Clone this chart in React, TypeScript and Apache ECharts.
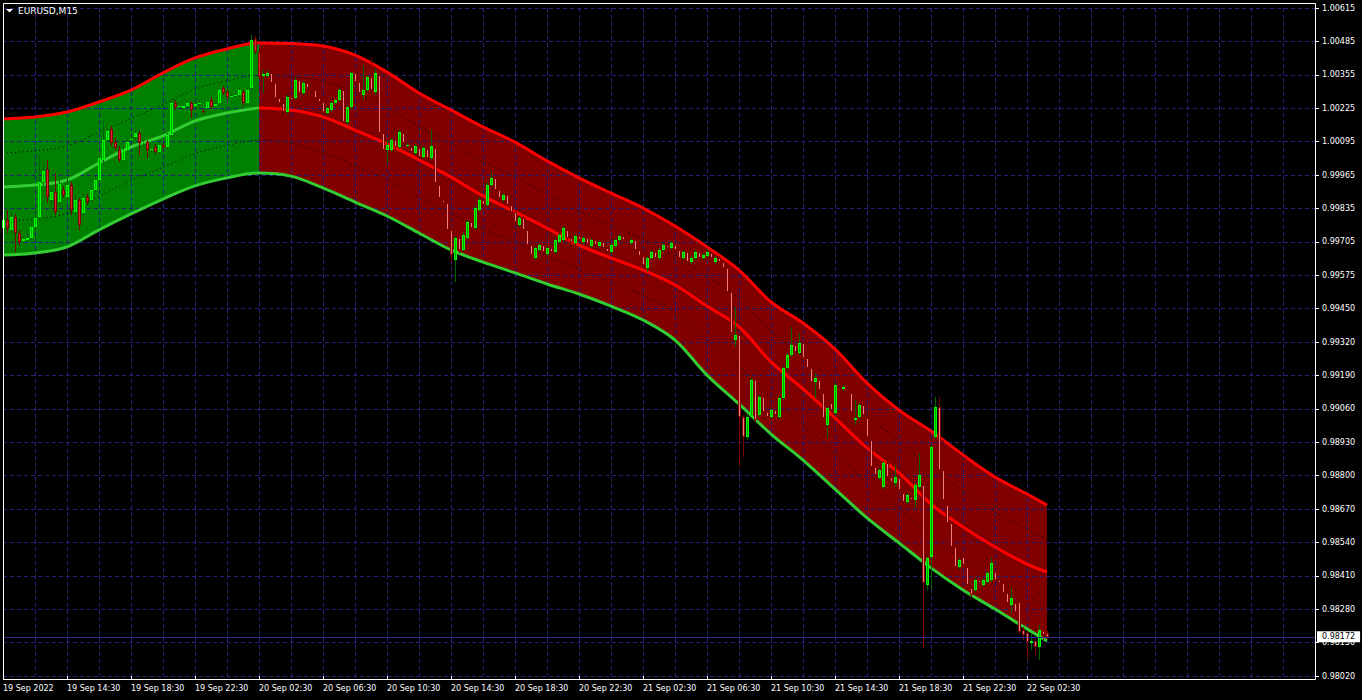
import React, { useEffect, useRef } from "react";
import * as echarts from "echarts";

// ---- texts ----
const symbolTitle = "EURUSD,M15";
const yTickLabels = [
  "0.98020", "0.98150", "0.98280", "0.98410", "0.98540", "0.98670", "0.98800",
  "0.98930", "0.99060", "0.99190", "0.99320", "0.99450", "0.99575", "0.99705",
  "0.99835", "0.99965", "1.00095", "1.00225", "1.00355", "1.00485", "1.00615",
];
const xTickLabels = [
  "19 Sep 2022", "19 Sep 14:30", "19 Sep 18:30", "19 Sep 22:30", "20 Sep 02:30",
  "20 Sep 06:30", "20 Sep 10:30", "20 Sep 14:30", "20 Sep 18:30", "20 Sep 22:30",
  "21 Sep 02:30", "21 Sep 06:30", "21 Sep 10:30", "21 Sep 14:30", "21 Sep 18:30",
  "21 Sep 22:30", "22 Sep 02:30",
];
const BARS_PER_LABEL = 16;
const BARS_PER_GRID = 8;
const SLOT_COUNT = 329; // bar slots across the chart (incl. right shift space)
const GREEN_END = 64; // last bar of the green band zone

// prices in points (1 point = 0.00001)
const PRICE_BASE = 98020;
const PRICE_TOP = 100615;

// ---- band indicator (sampled every 8 bars) ----
const bandIdx = [0, 8, 16, 24, 32, 40, 48, 56, 64, 72, 80, 88, 96, 104, 112, 120, 128, 136, 144, 152, 160, 168, 176, 184, 192, 200, 208, 216, 224, 232, 240, 248, 256, 261];
const upperBand = [100184, 100192, 100211, 100250, 100296, 100363, 100421, 100456, 100479, 100477, 100467, 100432, 100366, 100285, 100219, 100153, 100094, 100021, 99955, 99896, 99838, 99768, 99687, 99597, 99473, 99391, 99290, 99158, 99053, 98972, 98879, 98793, 98727, 98684];
const middleBand = [99920, 99927, 99947, 100013, 100075, 100118, 100176, 100207, 100227, 100219, 100192, 100141, 100087, 100025, 99958, 99885, 99823, 99760, 99694, 99644, 99597, 99539, 99457, 99376, 99240, 99135, 99022, 98906, 98809, 98688, 98599, 98521, 98455, 98424];
const lowerBand = [99655, 99663, 99687, 99753, 99815, 99873, 99924, 99955, 99974, 99962, 99916, 99861, 99807, 99741, 99675, 99628, 99586, 99543, 99504, 99457, 99403, 99325, 99189, 99077, 98960, 98859, 98746, 98634, 98537, 98440, 98354, 98280, 98203, 98156];
const dotUpper = [100052, 100060, 100079, 100132, 100186, 100241, 100299, 100332, 100353, 100348, 100330, 100287, 100227, 100155, 100089, 100019, 99959, 99891, 99825, 99770, 99718, 99654, 99572, 99487, 99357, 99263, 99156, 99032, 98931, 98830, 98739, 98657, 98591, 98554];
const dotLower = [99788, 99795, 99817, 99883, 99945, 99996, 100050, 100081, 100101, 100091, 100054, 100001, 99947, 99883, 99817, 99757, 99705, 99652, 99599, 99551, 99500, 99432, 99323, 99227, 99100, 98997, 98884, 98770, 98673, 98564, 98477, 98401, 98329, 98290];

// ---- M15 candles: [open, close, low, high] in points ----
const ohlc = [
  [99760, 99791, 99745, 99807], [99791, 99760, 99741, 99830], [99753, 99803, 99733, 99822], [99803, 99741, 99667, 99815],
  [99741, 99706, 99690, 99753], [99710, 99718, 99698, 99729], [99714, 99721, 99706, 99745], [99721, 99764, 99714, 99776],
  [99764, 99799, 99753, 99819], [99803, 99939, 99791, 100044], [99939, 99982, 99927, 100013], [99989, 99881, 99857, 100024],
  [99869, 99900, 99854, 99916], [99900, 99822, 99811, 99974], [99861, 99931, 99846, 99947], [99908, 99889, 99877, 99923],
  [99881, 99927, 99869, 99962], [99927, 99830, 99811, 99939], [99822, 99869, 99815, 99885], [99869, 99772, 99753, 99877],
  [99819, 99877, 99807, 99892], [99881, 99861, 99850, 99892], [99869, 99908, 99857, 99920], [99908, 99947, 99900, 99962],
  [99947, 100032, 99935, 100044], [100024, 100102, 100013, 100180], [100102, 100137, 100094, 100149], [100145, 100090, 100079, 100157],
  [100094, 100071, 100063, 100110], [100063, 100024, 100017, 100079], [100024, 100063, 100017, 100075], [100063, 100094, 100056, 100110],
  [100102, 100106, 100094, 100118], [100114, 100129, 100102, 100141], [100129, 100090, 100044, 100137], [100090, 100094, 100083, 100102],
  [100094, 100063, 100032, 100102], [100063, 100067, 100056, 100079], [100075, 100056, 100048, 100087], [100056, 100083, 100048, 100090],
  [100083, 100075, 100067, 100090], [100075, 100122, 100067, 100129], [100122, 100246, 100114, 100258], [100246, 100230, 100219, 100258],
  [100230, 100234, 100226, 100242], [100226, 100234, 100219, 100242], [100234, 100246, 100226, 100258], [100246, 100219, 100188, 100254],
  [100234, 100242, 100226, 100250], [100242, 100246, 100234, 100258], [100215, 100211, 100203, 100223], [100226, 100250, 100219, 100258],
  [100258, 100230, 100223, 100269], [100234, 100242, 100230, 100250], [100246, 100296, 100238, 100304], [100304, 100285, 100277, 100312],
  [100289, 100269, 100261, 100296], [100269, 100273, 100265, 100281], [100273, 100277, 100269, 100285], [100277, 100296, 100269, 100304],
  [100289, 100246, 100234, 100296], [100246, 100296, 100238, 100304], [100304, 100491, 100296, 100510], [100495, 100444, 100436, 100506],
  [100444, 100347, 100339, 100452], [100351, 100359, 100285, 100374], [100351, 100362, 100343, 100374], [100362, 100324, 100316, 100370],
  [100324, 100265, 100258, 100331], [100265, 100246, 100238, 100273], [100246, 100211, 100203, 100254], [100211, 100269, 100203, 100277],
  [100269, 100258, 100250, 100277], [100265, 100335, 100258, 100347], [100335, 100285, 100277, 100343], [100285, 100324, 100277, 100331],
  [100324, 100304, 100296, 100331], [100304, 100296, 100289, 100312], [100296, 100265, 100258, 100304], [100265, 100250, 100242, 100273],
  [100250, 100211, 100203, 100258], [100207, 100226, 100199, 100234], [100219, 100246, 100211, 100254], [100246, 100258, 100238, 100265],
  [100258, 100296, 100250, 100304], [100296, 100172, 100164, 100304], [100172, 100230, 100160, 100238], [100230, 100362, 100219, 100366],
  [100362, 100327, 100320, 100370], [100327, 100285, 100277, 100335], [100277, 100296, 100258, 100394], [100296, 100347, 100289, 100355],
  [100347, 100296, 100289, 100425], [100289, 100362, 100277, 100382], [100355, 100129, 100122, 100362], [100129, 100063, 100056, 100137],
  [100063, 100083, 100013, 100102], [100063, 100102, 100056, 100110], [100102, 100075, 100067, 100110], [100075, 100133, 100067, 100141],
  [100129, 100090, 100083, 100137], [100083, 100083, 100075, 100090], [100075, 100056, 100048, 100083], [100052, 100079, 100044, 100087],
  [100071, 100036, 100028, 100079], [100036, 100071, 100028, 100079], [100067, 100032, 100024, 100075], [100032, 100079, 100024, 100141],
  [100071, 99935, 99927, 100079], [99927, 99877, 99869, 99935], [99869, 99857, 99850, 99877], [99857, 99753, 99745, 99865],
  [99753, 99655, 99628, 99760], [99636, 99721, 99551, 99729], [99721, 99675, 99663, 99729], [99675, 99733, 99667, 99745],
  [99721, 99784, 99714, 99791], [99784, 99760, 99753, 99795], [99760, 99838, 99753, 99850], [99830, 99869, 99822, 99881],
  [99869, 99850, 99842, 99881], [99850, 99927, 99842, 99939], [99927, 99955, 99920, 99978], [99955, 99908, 99900, 99962],
  [99908, 99877, 99869, 99916], [99869, 99889, 99861, 99896], [99889, 99850, 99842, 99896], [99850, 99822, 99815, 99857],
  [99822, 99784, 99776, 99830], [99772, 99799, 99764, 99807], [99799, 99753, 99745, 99807], [99753, 99694, 99687, 99760],
  [99694, 99655, 99644, 99702], [99644, 99683, 99636, 99690], [99675, 99694, 99667, 99702], [99694, 99667, 99659, 99702],
  [99659, 99683, 99652, 99690], [99683, 99667, 99659, 99690], [99667, 99714, 99659, 99721], [99706, 99733, 99698, 99741],
  [99714, 99760, 99706, 99768], [99753, 99721, 99714, 99760], [99721, 99706, 99698, 99729], [99702, 99729, 99694, 99737],
  [99729, 99714, 99706, 99737], [99706, 99721, 99698, 99729], [99721, 99698, 99690, 99729], [99690, 99714, 99683, 99721],
  [99714, 99694, 99687, 99721], [99690, 99706, 99683, 99714], [99706, 99683, 99675, 99714], [99683, 99667, 99659, 99690],
  [99667, 99694, 99659, 99702], [99690, 99714, 99683, 99721], [99714, 99729, 99706, 99737], [99729, 99714, 99706, 99737],
  [99714, 99706, 99698, 99721], [99702, 99714, 99694, 99721], [99714, 99675, 99667, 99721], [99675, 99652, 99644, 99683],
  [99652, 99617, 99605, 99659], [99605, 99644, 99589, 99652], [99644, 99667, 99636, 99675], [99667, 99644, 99636, 99675],
  [99644, 99675, 99636, 99683], [99675, 99694, 99667, 99702], [99694, 99683, 99675, 99702], [99683, 99702, 99675, 99710],
  [99694, 99675, 99667, 99702], [99675, 99644, 99636, 99683], [99644, 99667, 99636, 99675], [99667, 99628, 99621, 99675],
  [99628, 99644, 99621, 99652], [99644, 99667, 99636, 99675], [99667, 99644, 99636, 99675], [99644, 99655, 99636, 99663],
  [99652, 99667, 99644, 99675], [99663, 99644, 99636, 99671], [99628, 99644, 99621, 99652], [99644, 99628, 99621, 99652],
  [99628, 99605, 99597, 99636], [99605, 99512, 99504, 99613], [99512, 99352, 99345, 99519], [99325, 99345, 99298, 99453],
  [99345, 99026, 98832, 99352], [99026, 98948, 98871, 99034], [98948, 99026, 98937, 99034], [99026, 99170, 99018, 99178],
  [99170, 99014, 99007, 99178], [99034, 99104, 99026, 99112], [99104, 99045, 99038, 99112], [99045, 99026, 99018, 99053],
  [99026, 99053, 99018, 99061], [99053, 99034, 99026, 99061], [99026, 99100, 99018, 99108], [99100, 99216, 99092, 99224],
  [99216, 99267, 99209, 99275], [99267, 99306, 99259, 99376], [99306, 99279, 99271, 99314], [99275, 99314, 99267, 99352],
  [99314, 99255, 99248, 99321], [99255, 99216, 99209, 99263], [99216, 99162, 99154, 99224], [99162, 99178, 99100, 99197],
  [99170, 99131, 99123, 99178], [99119, 99022, 99014, 99127], [98995, 99061, 98944, 99069], [99080, 99053, 99045, 99088],
  [99041, 99150, 99034, 99158], [99147, 99139, 99131, 99154], [99135, 99143, 99127, 99150], [99139, 99131, 99123, 99147],
  [99119, 99045, 99038, 99127], [99014, 99022, 98995, 99092], [99026, 99073, 99018, 99080], [99073, 99034, 99026, 99080],
  [99022, 98948, 98941, 99030], [98937, 98832, 98824, 98944], [98832, 98801, 98793, 98840], [98789, 98820, 98781, 98828],
  [98754, 98847, 98746, 98855], [98847, 98793, 98785, 98855], [98793, 98773, 98766, 98801], [98770, 98793, 98754, 98840],
  [98789, 98742, 98735, 98797], [98731, 98696, 98688, 98738], [98696, 98723, 98688, 98731], [98715, 98704, 98696, 98723],
  [98704, 98762, 98672, 98770], [98754, 98801, 98746, 98886], [98762, 98381, 98129, 98770], [98373, 98478, 98354, 98486],
  [98482, 98909, 98354, 98917], [98948, 99065, 98941, 99104], [99065, 98820, 98812, 99104], [98820, 98704, 98696, 98937],
  [98684, 98614, 98607, 98692], [98614, 98521, 98513, 98622], [98521, 98443, 98435, 98529], [98443, 98470, 98435, 98478],
  [98482, 98451, 98443, 98490], [98443, 98373, 98366, 98451], [98362, 98334, 98327, 98369], [98354, 98393, 98346, 98400],
  [98393, 98381, 98373, 98400], [98373, 98393, 98366, 98400], [98385, 98420, 98377, 98428], [98393, 98459, 98385, 98478],
  [98424, 98393, 98385, 98432], [98393, 98381, 98373, 98400], [98381, 98342, 98334, 98389], [98342, 98303, 98296, 98350],
  [98296, 98323, 98264, 98362], [98303, 98268, 98261, 98311], [98307, 98191, 98183, 98315], [98199, 98179, 98160, 98210],
  [98187, 98152, 98082, 98195], [98148, 98156, 98121, 98187], [98156, 98132, 98101, 98163], [98132, 98199, 98082, 98218],
  [98195, 98179, 98160, 98210], [98187, 98172, 98163, 98195],
];

const FONT = "DejaVu Sans";

export default function App() {
  const ref = useRef<HTMLDivElement>(null);

  useEffect(() => {
    if (!ref.current) return;
    const chart = echarts.init(ref.current, undefined, { renderer: "svg" });
    const rel = (v: number) => v - PRICE_BASE;
    const span = PRICE_TOP - PRICE_BASE;
    const step = span / 20;
    const splitK = bandIdx.indexOf(GREEN_END);
    const lastK = bandIdx.length - 1;
    const pts = (arr: number[], from: number, to: number) =>
      bandIdx.slice(from, to + 1).map((ix, k) => [ix, rel(arr[from + k])]);
    const width = (from: number, to: number) =>
      bandIdx.slice(from, to + 1).map((ix, k) => [ix, upperBand[from + k] - lowerBand[from + k]]);
    const categories = Array.from({ length: SLOT_COUNT }, (_, i) => String(i));
    const lastPrice = ohlc[ohlc.length - 1][1];
    const SMOOTH = 0.35;

    const hidden = { width: 0, opacity: 0 };
    const fillSeries = (stack: string, from: number, to: number, color: string) => [
      {
        type: "line", stack, data: pts(lowerBand, from, to), smooth: SMOOTH, symbol: "none",
        lineStyle: hidden, silent: true, z: 1,
      },
      {
        type: "line", stack, data: width(from, to), smooth: SMOOTH, symbol: "none",
        lineStyle: hidden, areaStyle: { color, opacity: 1 }, silent: true, z: 1,
      },
    ];
    const bandLine = (data: number[][], color: string, w: number, extra: any = {}) => ({
      type: "line", data, smooth: SMOOTH, symbol: "none", silent: true, z: 3,
      lineStyle: { color, width: w, ...extra },
    });

    const renderCandle = (_params: any, api: any) => {
      const i = api.value(0);
      const o = api.value(1), c = api.value(2), lo = api.value(3), hi = api.value(4);
      const pO = api.coord([i, o]);
      const x = Math.round(pO[0]);
      const yC = api.coord([i, c])[1];
      const yL = Math.round(api.coord([i, lo])[1]);
      const yH = Math.round(api.coord([i, hi])[1]);
      const bull = c >= o;
      const green = i <= GREEN_END;
      const wick = bull ? "#006400" : "#800000";
      const border = bull ? "#00ff00" : "#800000";
      const inner = bull ? "#00a800" : green ? "#dc2828" : "#f08080";
      const top = Math.round(Math.min(pO[1], yC));
      let bot = Math.round(Math.max(pO[1], yC));
      if (bot - top < 1) bot = top + 1;
      const children: any[] = [
        { type: "rect", shape: { x, y: yH, width: 1, height: Math.max(1, yL - yH) }, style: { fill: wick } },
        { type: "rect", shape: { x: x - 1, y: top, width: 3, height: bot - top }, style: { fill: border } },
      ];
      if (bot - top > 2) {
        children.push({ type: "rect", shape: { x, y: top + 1, width: 1, height: bot - top - 2 }, style: { fill: inner } });
      }
      return { type: "group", children };
    };

    const gridColor = "#23237e";
    const showLabel = (idx: number) => idx % BARS_PER_LABEL === 0 && idx / BARS_PER_LABEL < xTickLabels.length;

    chart.setOption({
      animation: false,
      backgroundColor: "#000000",
      grid: { left: 3, right: 47, top: 8, bottom: 24, containLabel: false },
      xAxis: {
        type: "category",
        data: categories,
        boundaryGap: false,
        offset: 3,
        z: 2,
        axisLine: { show: false },
        axisTick: { show: true, length: 4, interval: (idx: number) => showLabel(idx), lineStyle: { color: "#ffffff" } },
        axisLabel: {
          show: true,
          interval: (idx: number) => showLabel(idx),
          formatter: (v: string) => xTickLabels[Number(v) / BARS_PER_LABEL] ?? "",
          align: "left",
          color: "#ffffff",
          fontFamily: FONT,
          fontSize: 8,
          margin: 5,
        },
        splitLine: { show: true, interval: BARS_PER_GRID - 1, lineStyle: { color: gridColor, type: [4, 3], width: 1 } },
      },
      yAxis: {
        type: "value",
        position: "right",
        min: 0,
        max: span,
        interval: step,
        z: 2,
        axisLine: { show: false },
        axisTick: { show: true, length: 4, lineStyle: { color: "#ffffff" } },
        axisLabel: {
          color: "#ffffff",
          fontFamily: FONT,
          fontSize: 8,
          margin: 7,
          showMinLabel: true,
          showMaxLabel: true,
          formatter: (v: number) => yTickLabels[Math.round(v / step)] ?? "",
        },
        splitLine: { show: true, lineStyle: { color: gridColor, type: [4, 3], width: 1 } },
      },
      series: [
        ...fillSeries("g", 0, splitK, "#008000"),
        ...fillSeries("r", splitK, lastK, "#800000"),
        bandLine(pts(dotUpper, 0, lastK), "#000000", 1, { type: [1, 3] }),
        bandLine(pts(dotLower, 0, lastK), "#000000", 1, { type: [1, 3] }),
        bandLine(pts(upperBand, 0, lastK), "#ff0000", 3),
        bandLine(pts(middleBand, 0, splitK), "#32cd32", 3),
        bandLine(pts(middleBand, splitK, lastK), "#ff0000", 3),
        {
          ...bandLine(pts(lowerBand, 0, lastK), "#32cd32", 3),
          markLine: {
            silent: true,
            symbol: "none",
            animation: false,
            data: [{ yAxis: rel(lastPrice) }],
            lineStyle: { color: "#2e2e8c", type: "solid", width: 1 },
            label: {
              show: true,
              position: "end",
              distance: 2,
              formatter: () => (lastPrice / 100000).toFixed(5),
              backgroundColor: "#ffffff",
              color: "#000000",
              fontFamily: FONT,
              fontSize: 8,
              padding: [2, 5, 1, 5],
            },
          },
        },
        {
          type: "custom",
          renderItem: renderCandle,
          data: ohlc.map((r, i) => [i, rel(r[0]), rel(r[1]), rel(r[2]), rel(r[3])]),
          encode: { x: 0, y: [1, 2, 3, 4] },
          silent: true,
          z: 4,
        },
      ],
      graphic: [
        {
          type: "rect",
          shape: { x: 3.5, y: 3.5, width: 1312, height: 676 },
          style: { fill: "none", stroke: "#ffffff", lineWidth: 1 },
          silent: true,
          z: 10,
        },
        {
          type: "polygon",
          shape: { points: [[6, 9], [13, 9], [9.5, 12.5]] },
          style: { fill: "#ffffff" },
          silent: true,
          z: 10,
        },
        {
          type: "text",
          x: 18,
          y: 11,
          style: { text: symbolTitle, fill: "#ffffff", fontFamily: FONT, fontSize: 9, verticalAlign: "middle" },
          silent: true,
          z: 10,
        },
      ],
    });

    return () => chart.dispose();
  }, []);

  return (
    <div
      ref={ref}
      style={{ position: "fixed", left: 0, top: 0, width: 1362, height: 700, background: "#000" }}
    />
  );
}
